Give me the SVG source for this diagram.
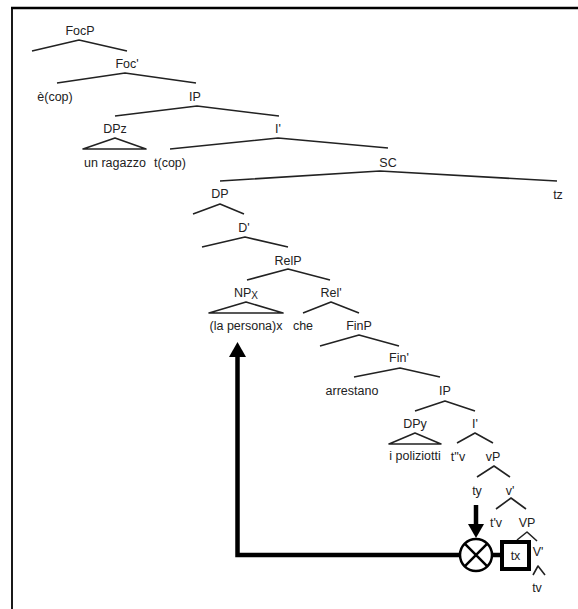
<svg xmlns="http://www.w3.org/2000/svg" width="578" height="609" viewBox="0 0 578 609">
  <style>
    .lbl { font-family: "Liberation Sans", Arial, sans-serif; font-size: 12.5px; fill: #222; text-anchor: middle; }
    .sub { font-size: 10px; }
    .br { fill: none; stroke: #222; stroke-width: 1.6; stroke-linejoin: round; }
    .mv { fill: none; stroke: #000; stroke-width: 4.5; }
    .head { fill: #000; stroke: none; }
  </style>
  <rect width="578" height="609" fill="#fff"/>

  <!-- frame -->
  <g id="frame" stroke="#000" fill="none">
    <line x1="11" y1="8" x2="578" y2="8" stroke-width="2.6"/>
    <line x1="12" y1="7" x2="12" y2="609" stroke-width="1.8"/>
  </g>

  <!-- tree branches -->
  <g id="connectors">
    <path class="br" d="M32,51 L79,40 L127,51"/>
    <path class="br" d="M57,83 L125,73 L196,83"/>
    <path class="br" d="M115,116 L197,106 L279,116"/>
    <path class="br" d="M83,149 L115,138 L146,149 Z"/>
    <path class="br" d="M170,149 L278,138 L388,148"/>
    <path class="br" d="M220,181 L380,171 L557,181"/>
    <path class="br" d="M193,214 L220,204 L244,214"/>
    <path class="br" d="M202,247 L245,237 L288,247"/>
    <path class="br" d="M247,280 L288,269 L330,280"/>
    <path class="br" d="M209,313 L246,302 L283,313 Z"/>
    <path class="br" d="M303,313 L331,302 L359,313"/>
    <path class="br" d="M320,346 L359,335 L399,346"/>
    <path class="br" d="M354,377 L400,368 L440,377"/>
    <path class="br" d="M415,411 L445,401 L475,411"/>
    <path class="br" d="M389,444 L415,433 L441,444 Z"/>
    <path class="br" d="M457,443 L475,433 L493,443"/>
    <path class="br" d="M477,477 L494,466 L510,477"/>
    <path class="br" d="M496,509 L511,498 L526,509"/>
    <path class="br" d="M517,540 L527,532 L537,541"/>
    <path class="br" d="M533,575 L538,566 L545,575"/>

    <!-- movement arrow to (la persona)x -->
    <path class="mv" d="M460,555 L237.5,555 L237.5,355"/>
    <polygon class="head" points="229,357 237.5,342 246,357"/>
    <!-- link from circle to tx -->
    <line class="mv" x1="492" y1="555" x2="502" y2="555"/>
    <!-- downward arrow from ty -->
    <line class="mv" x1="476" y1="505" x2="476" y2="526"/>
    <polygon class="head" points="468,524 476,538 484,524"/>
  </g>

  <!-- nodes -->
  <g id="n-focp"><text class="lbl" x="80" y="35">FocP</text></g>
  <g id="n-focbar"><text class="lbl" x="127" y="68">Foc'</text></g>
  <g id="n-ecop"><text class="lbl" x="55" y="101">è(cop)</text></g>
  <g id="n-ip1"><text class="lbl" x="195" y="101">IP</text></g>
  <g id="n-dpz"><text class="lbl" x="115" y="133">DPz</text></g>
  <g id="n-ibar1"><text class="lbl" x="278" y="133">I'</text></g>
  <g id="n-unragazzo"><text class="lbl" x="115" y="167">un ragazzo</text></g>
  <g id="n-tcop"><text class="lbl" x="170" y="167">t(cop)</text></g>
  <g id="n-sc"><text class="lbl" x="388" y="167">SC</text></g>
  <g id="n-dp"><text class="lbl" x="220" y="198">DP</text></g>
  <g id="n-tz"><text class="lbl" x="558" y="199">tz</text></g>
  <g id="n-dbar"><text class="lbl" x="244" y="232">D'</text></g>
  <g id="n-relp"><text class="lbl" x="288" y="265">RelP</text></g>
  <g id="n-npx"><text class="lbl" x="246" y="297">NP<tspan class="sub" dy="2">X</tspan></text></g>
  <g id="n-relbar"><text class="lbl" x="331" y="297">Rel'</text></g>
  <g id="n-lapersona"><text class="lbl" x="246" y="330">(la persona)x</text></g>
  <g id="n-che"><text class="lbl" x="303" y="330">che</text></g>
  <g id="n-finp"><text class="lbl" x="359" y="330">FinP</text></g>
  <g id="n-finbar"><text class="lbl" x="399" y="362">Fin'</text></g>
  <g id="n-arrestano"><text class="lbl" x="352" y="395">arrestano</text></g>
  <g id="n-ip2"><text class="lbl" x="445" y="395">IP</text></g>
  <g id="n-dpy"><text class="lbl" x="415" y="428">DPy</text></g>
  <g id="n-ibar2"><text class="lbl" x="475" y="428">I'</text></g>
  <g id="n-ipoliziotti"><text class="lbl" x="415" y="460">i poliziotti</text></g>
  <g id="n-t2v"><text class="lbl" x="458" y="461">t''v</text></g>
  <g id="n-vp-small"><text class="lbl" x="493" y="461">vP</text></g>
  <g id="n-ty"><text class="lbl" x="477" y="495">ty</text></g>
  <g id="n-vbar-small"><text class="lbl" x="510" y="495">v'</text></g>
  <g id="n-t1v"><text class="lbl" x="496" y="527">t'v</text></g>
  <g id="n-vp"><text class="lbl" x="527" y="527">VP</text></g>
  <g id="n-tx">
    <rect x="502" y="542" width="27" height="27" fill="#fff" stroke="#000" stroke-width="4"/>
    <text class="lbl" x="515.5" y="560">tx</text>
  </g>
  <g id="n-vbar"><text class="lbl" x="538" y="556">V'</text></g>
  <g id="n-tv"><text class="lbl" x="537" y="592">tv</text></g>
  <g id="n-cross">
    <circle cx="476" cy="555" r="16" fill="#fff" stroke="#000" stroke-width="2.5"/>
    <path d="M464.7,543.7 L487.3,566.3 M487.3,543.7 L464.7,566.3" stroke="#000" stroke-width="2.5"/>
  </g>
</svg>
